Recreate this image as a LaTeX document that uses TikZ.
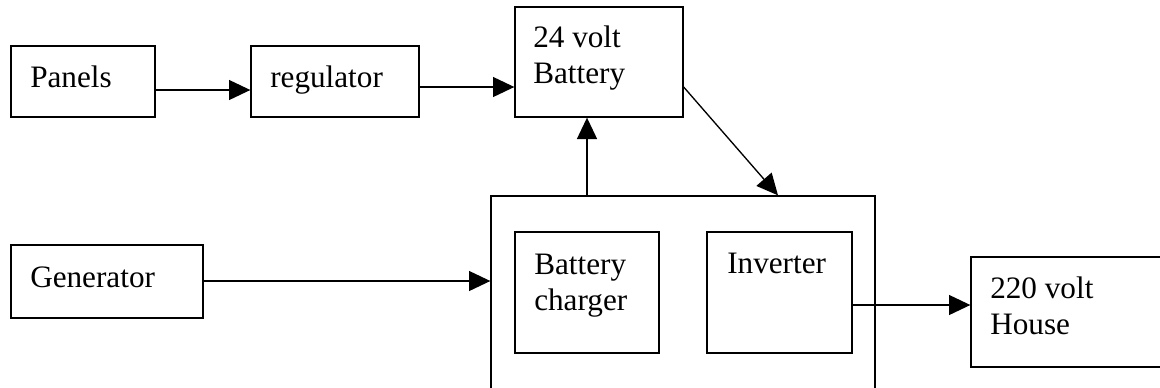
\documentclass[tikz,border=0pt]{standalone}
\usepackage{fontspec}
\setmainfont{Liberation Serif}
\usetikzlibrary{arrows.meta}
\begin{document}
\begin{tikzpicture}[x=0.75pt,y=-0.75pt,
  box/.style={draw, line width=1pt, inner sep=0pt},
  txt/.style={anchor=base west, inner sep=0pt, align=left, font=\fontsize{23.4pt}{27pt}\selectfont},
  arr/.style={line width=1pt, -{Triangle[length=16pt,width=15pt]}}]
\clip (0,0) rectangle (1160,387);
% boxes
\node[box, minimum width=144*0.75pt, minimum height=71*0.75pt] (pan) at (83,81.5) {};
\node[box, minimum width=168*0.75pt, minimum height=71*0.75pt] (reg) at (335,81.5) {};
\node[box, minimum width=168*0.75pt, minimum height=110*0.75pt] (bat) at (599,62) {};
\node[box, minimum width=192*0.75pt, minimum height=73*0.75pt] (gen) at (107,281.5) {};
\node[box, minimum width=384*0.75pt, minimum height=220*0.75pt] (big) at (683,306) {};
\node[box, minimum width=144*0.75pt, minimum height=121*0.75pt] (chg) at (587,292.5) {};
\node[box, minimum width=145*0.75pt, minimum height=121*0.75pt] (inv) at (779.5,292.5) {};
\node[box, minimum width=230*0.75pt, minimum height=110*0.75pt] (hou) at (1086,312) {};
% texts (anchor = baseline of last line)
\node[txt] (tpan) at (30,87) {Panels};
\node[txt] (treg) at (270,87) {regulator};
\node[txt] (tbat) at (533,83) {24 volt\\Battery};
\node[txt] (tgen) at (30,287) {Generator};
\node[txt] (tchg) at (534,310) {Battery\\charger};
\node[txt] (tinv) at (727,273) {Inverter};
\node[txt] (thou) at (990,334) {220 volt\\House};
% connectors
\draw[arr] (pan.east |- 0,90) -- (reg.west |- 0,90);
\draw[arr] (reg.east |- 0,87) -- (bat.west |- 0,87);
\draw[arr] (gen.east |- 0,281) -- (big.west |- 0,281);
\draw[arr] (big.north -| 587,0) -- (bat.south -| 587,0);
\draw[arr] (bat.east |- 0,87) -- (big.north -| 778,0);
\draw[arr] (inv.east |- 0,305) -- (hou.west |- 0,305);
\end{tikzpicture}
\end{document}
